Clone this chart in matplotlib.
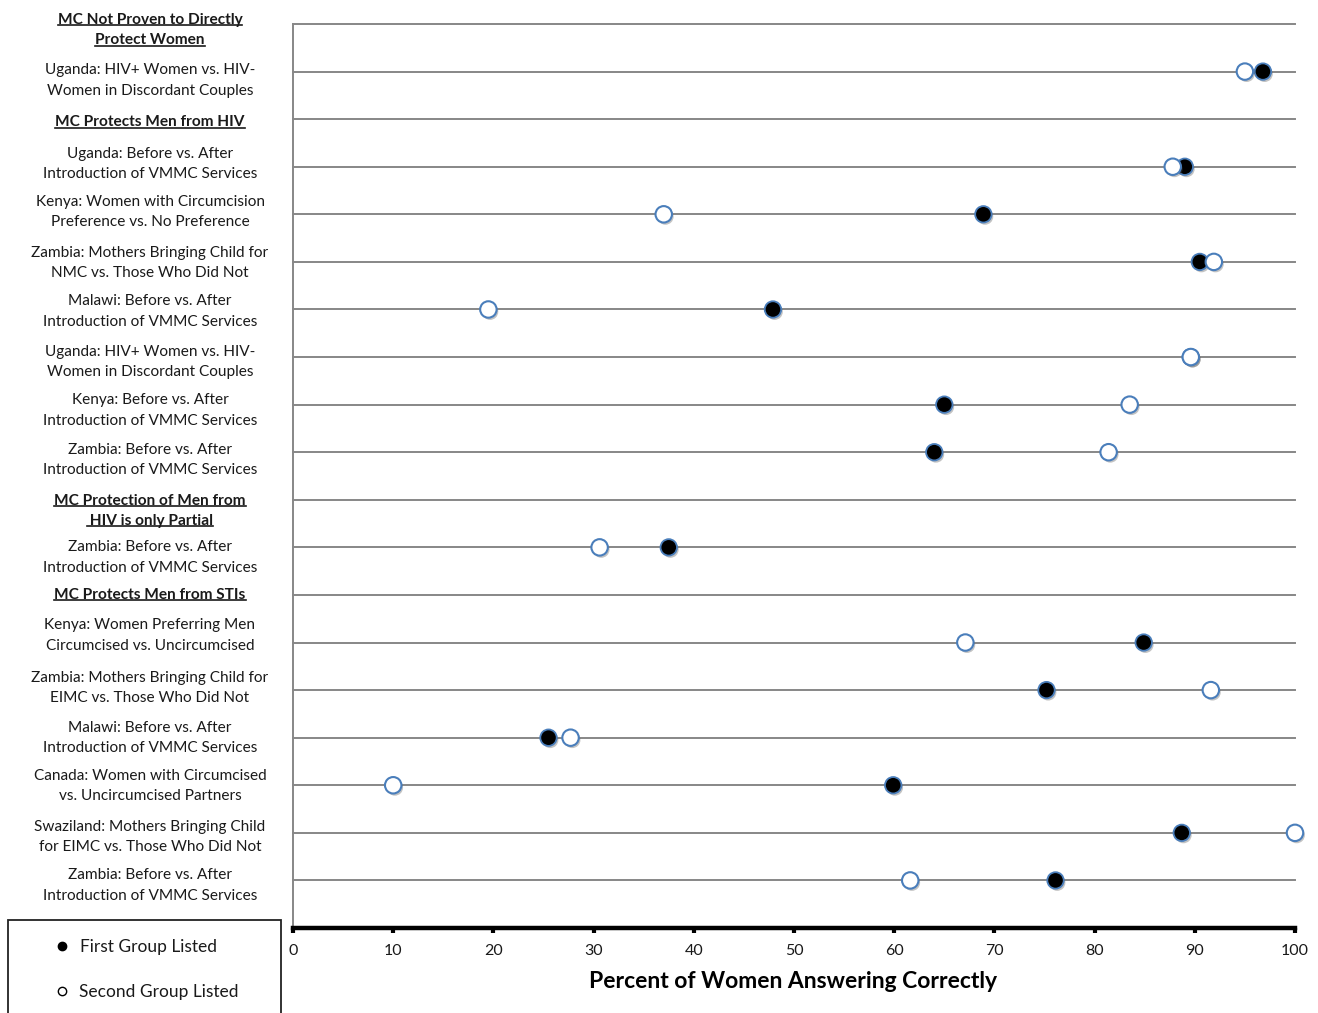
import matplotlib
matplotlib.use("Agg")
import matplotlib.pyplot as plt
import matplotlib.patheffects as pe
from matplotlib.patches import Rectangle
from matplotlib.lines import Line2D

plt.rcParams['font.family'] = ['Lato', 'DejaVu Sans']

# ---- data (top to bottom) ----
labels = [
    "MC Not Proven to Directly\nProtect Women",
    "Uganda: HIV+ Women vs. HIV-\nWomen in Discordant Couples",
    "MC Protects Men from HIV",
    "Uganda: Before vs. After\nIntroduction of VMMC Services",
    "Kenya: Women with Circumcision\nPreference vs. No Preference",
    "Zambia: Mothers Bringing Child for\nNMC vs. Those Who Did Not",
    "Malawi: Before vs. After\nIntroduction of VMMC Services",
    "Uganda: HIV+ Women vs. HIV-\nWomen in Discordant Couples",
    "Kenya: Before vs. After\nIntroduction of VMMC Services",
    "Zambia: Before vs. After\nIntroduction of VMMC Services",
    "MC Protection of Men from\n HIV is only Partial",
    "Zambia: Before vs. After\nIntroduction of VMMC Services",
    "MC Protects Men from STIs",
    "Kenya: Women Preferring Men\nCircumcised vs. Uncircumcised",
    "Zambia: Mothers Bringing Child for\nEIMC vs. Those Who Did Not",
    "Malawi: Before vs. After\nIntroduction of VMMC Services",
    "Canada: Women with Circumcised\nvs. Uncircumcised Partners",
    "Swaziland: Mothers Bringing Child\nfor EIMC vs. Those Who Did Not",
    "Zambia: Before vs. After\nIntroduction of VMMC Services",
]
is_header = [True, False, True, False, False, False, False, False, False, False,
             True, False, True, False, False, False, False, False, False]
first_group = [None, 96.8, None, 89.0, 68.9, 90.5, 47.9, 89.6, 65.0, 64.0,
               None, 37.5, None, 84.9, 75.2, 25.5, 59.9, 88.7, 76.1]
second_group = [None, 95.0, None, 87.8, 37.0, 91.9, 19.5, 89.6, 83.5, 81.4,
                None, 30.6, None, 67.1, 91.6, 27.7, 10.0, 100.0, 61.6]
x_ticks = [0, 10, 20, 30, 40, 50, 60, 70, 80, 90, 100]
x_label = "Percent of Women Answering Correctly"
legend_labels = ["First Group Listed", "Second Group Listed"]

# layout: vertical nudge of each row label (pixels, positive = down)
label_nudge_px = [6, 9, 3, -3, -2, 1, 2, 5, 6, 8, 11, 10, 0, -7, -2, 0, 1, 4, 5]

W, H = 1318, 1013
fig = plt.figure(figsize=(W / 100, H / 100), dpi=100)

def fx(px):
    return px / W

def fy(py):
    return 1 - py / H

ax = fig.add_axes([fx(293), fy(928), fx(1295) - fx(293), (928 - 24) / H])
n = len(labels)
ax.set_xlim(0, 100)
ax.set_ylim(n, 0)

grid_col = '#878787'
for i in range(n):
    ax.axhline(i, color=grid_col, lw=1.4, zorder=1, clip_on=False)

for s in ['top', 'right']:
    ax.spines[s].set_visible(False)
ax.spines['left'].set_color(grid_col)
ax.spines['left'].set_linewidth(1.4)
ax.spines['bottom'].set_color('black')
ax.spines['bottom'].set_linewidth(3.2)
ax.set_yticks([])
ax.set_xticks(x_ticks)
ax.set_xticklabels([str(t) for t in x_ticks])
ax.tick_params(axis='x', direction='out', length=3.5, width=3, colors='black',
               labelsize=11.5, pad=8, labelcolor='#1a1a1a')

shadow = [pe.SimplePatchShadow(offset=(1.2, -1.6), shadow_rgbFace='#555555', alpha=0.35),
          pe.Normal()]
edge = '#4a7ebb'
ys1 = [i for i, v in enumerate(first_group) if v is not None]
xs1 = [v for v in first_group if v is not None]
ys2 = [i for i, v in enumerate(second_group) if v is not None]
xs2 = [v for v in second_group if v is not None]
ax.scatter(xs1, ys1, s=140, c='black', edgecolors=edge, linewidths=1.3,
           zorder=3, clip_on=False, path_effects=shadow)
ax.scatter(xs2, ys2, s=140, c='white', edgecolors=edge, linewidths=1.5,
           zorder=4, clip_on=False, path_effects=shadow)

# ---- category labels ----
header_texts = []
for i, (lab, hdr) in enumerate(zip(labels, is_header)):
    lines = lab.split("\n")
    nl = len(lines)
    for k, line in enumerate(lines):
        off = -((k - (nl - 1) / 2) * 14.6) - label_nudge_px[i] * 0.72
        t = ax.annotate(line, xy=(fx(150), i), xycoords=('figure fraction', 'data'),
                        xytext=(0, off), textcoords='offset points',
                        ha='center', va='center', fontsize=11.1,
                        fontweight='bold' if hdr else 'normal',
                        color='#1a1a1a', annotation_clip=False)
        if hdr:
            header_texts.append(t)

# x label
fig.text(fx(793), fy(981), x_label, ha='center', va='center',
         fontsize=16.5, fontweight='bold', color='black')

# legend box
fig.patches.append(Rectangle((fx(8), fy(1030)), fx(281) - fx(8), fy(920) - fy(1030),
                             transform=fig.transFigure, fill=False,
                             edgecolor='#222222', lw=1.3))
fig.lines.append(Line2D([fx(62)], [fy(946)], transform=fig.transFigure, marker='o',
                        markersize=6, markerfacecolor='black', markeredgecolor='black',
                        linestyle='none'))
fig.lines.append(Line2D([fx(62)], [fy(991)], transform=fig.transFigure, marker='o',
                        markersize=6, markerfacecolor='white', markeredgecolor='black',
                        markeredgewidth=1.0, linestyle='none'))
fig.text(fx(80), fy(947), legend_labels[0], ha='left', va='center', fontsize=12.5,
         color='#1a1a1a')
fig.text(fx(79), fy(992), legend_labels[1], ha='left', va='center', fontsize=12.5,
         color='#1a1a1a')

# underline header lines
fig.canvas.draw()
r = fig.canvas.get_renderer()
for t in header_texts:
    bb = t.get_window_extent(renderer=r)
    ypx = bb.y0 + 1.5
    fig.lines.append(Line2D([bb.x0 / W, bb.x1 / W], [ypx / H, ypx / H],
                            transform=fig.transFigure, color='#1a1a1a', lw=1.2))

fig.savefig("out.png", dpi=100)
